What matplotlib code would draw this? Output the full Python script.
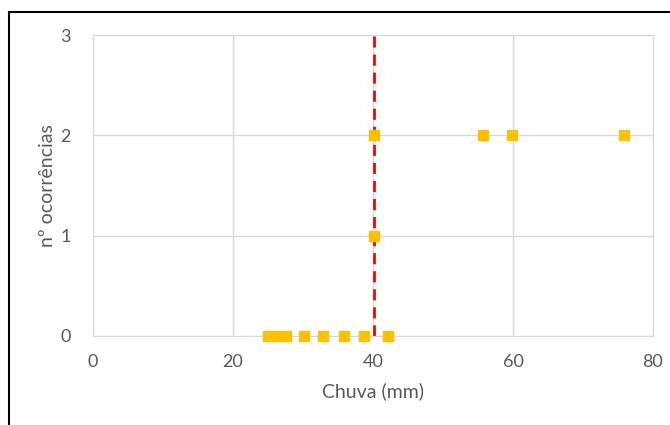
import numpy as np
import matplotlib
matplotlib.use("Agg")
import matplotlib.pyplot as plt
from matplotlib.lines import Line2D

# rainfall (mm) and number of occurrences
chuva = [25.0, 26.0, 27.6, 30.1, 32.9, 35.9, 38.7, 42.1, 40.1, 40.1, 55.7, 59.9, 75.9]
ocorrencias = [0, 0, 0, 0, 0, 0, 0, 0, 1, 2, 2, 2, 2]
limiar = 40.1

x_ticks = [0, 20, 40, 60, 80]
y_ticks = [0, 1, 2, 3]

plt.rcParams['font.family'] = ['Lato', 'DejaVu Sans']
txt = '#595959'

fig = plt.figure(figsize=(6.7, 4.25), dpi=100)
ax = fig.add_axes([93/670, 1 - 336/425, 560/670, 301/425])

ax.axvline(limiar, ymin=0, ymax=1, color='#FF0000', lw=2, ls=(0, (4, 2.5)), zorder=2)
ax.plot(chuva, ocorrencias, ls='none', marker='s', ms=7, color='#FFC000', zorder=3, clip_on=False)

ax.set_xlim(0, 80)
ax.set_ylim(0, 3)
ax.set_xticks(x_ticks)
ax.set_yticks(y_ticks)
ax.grid(True, color='#D9D9D9', lw=1)
ax.set_axisbelow(True)
for s in ax.spines.values():
    s.set_color('#D9D9D9')
ax.tick_params(length=0, colors=txt, labelsize=13)
ax.tick_params(axis='x', pad=13)
ax.tick_params(axis='y', pad=16)
ax.set_xlabel('Chuva (mm)', color=txt, fontsize=14, labelpad=9)
ax.set_ylabel('nº ocorrências', color=txt, fontsize=14, labelpad=3)

# outer frame (left and top edges visible in the crop)
fig.add_artist(Line2D([9/670, 9/670], [0, 1 - 12/425], color='black', lw=1.5, transform=fig.transFigure))
fig.add_artist(Line2D([9/670, 1], [1 - 12/425, 1 - 12/425], color='black', lw=1.5, transform=fig.transFigure))

fig.savefig('out.png', dpi=100)
